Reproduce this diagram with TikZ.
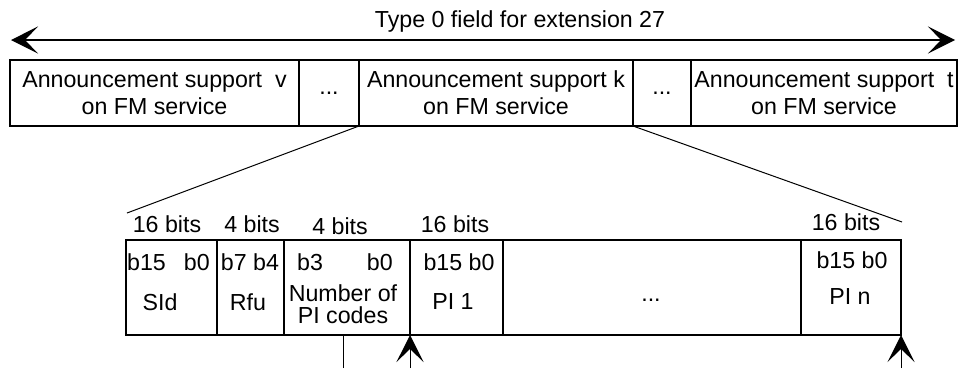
\documentclass[tikz,border=0pt]{standalone}
\usepackage{fontspec}
\setmainfont{Liberation Sans}
\usepackage{tikz}
\usetikzlibrary{
  arrows.meta,
  positioning
}
\newcommand{\cellfont}{\fontsize{23.2}{27}\selectfont}
\tikzset{
  cell/.style={
    draw, line width=2.2pt, inner sep=0pt, outer sep=0pt, align=center,
    font=\cellfont
  },
  topcell/.style={cell, minimum height=66pt},
  bitcell/.style={cell, minimum height=95pt},
  txt/.style={inner sep=0pt, font=\cellfont, align=center},
  barb/.tip={Stealth[length=27pt, width=27pt, inset=13pt, line width=1.5pt]},
  spanline/.style={barb-barb, line width=2pt},
  ptrline/.style={-barb, line width=1pt},
  thinline/.style={line width=1pt}
}

\begin{document}
\begin{tikzpicture}[x=1pt, y=-1pt]
  \fill[white] (0,0) rectangle (958,368);
  \useasboundingbox (0,0) rectangle (958,368);

  % whole field
  \coordinate (la) at (11,40);
  \coordinate (ra) at (955,40);
  \draw[spanline] (la) -- (ra);
  \node[txt] (ttl) at (520,21) {Type 0 field for extension 27};

  % top row
  \node[topcell, minimum width=289pt, anchor=north west] (av) at (10,60)
    {Announcement support~~v\\on FM service};
  \node[topcell, minimum width=60pt, right=0pt of av] (d1) {...};
  \node[topcell, minimum width=274pt, right=0pt of d1] (ak)
    {Announcement support k\\on FM service};
  \node[topcell, minimum width=58pt, right=0pt of ak] (d2) {...};
  \node[topcell, minimum width=266pt, right=0pt of d2] (at)
    {Announcement support~~t\\on FM service};

  % zoom lines
  \coordinate (zl) at (127,213);
  \coordinate (zr) at (902,222);
  \draw[thinline] (ak.south west) -- (zl);
  \draw[thinline] (ak.south east) -- (zr);

  % bottom row
  \node[bitcell, minimum width=91pt, anchor=north west] (sid) at (126,240) {};
  \node[bitcell, minimum width=67pt, right=0pt of sid] (rfu) {};
  \node[bitcell, minimum width=126pt, right=0pt of rfu] (npi) {};
  \node[bitcell, minimum width=93pt, right=0pt of npi] (pi1) {};
  \node[bitcell, minimum width=298pt, right=0pt of pi1] (pid) {};
  \node[bitcell, minimum width=100pt, right=0pt of pid] (pin) {};

  % sizes
  \node[txt] (h1) at (167,224) {16 bits};
  \node[txt] (h2) at (252,224) {4 bits};
  \node[txt] (h3) at (340,226) {4 bits};
  \node[txt] (h4) at (455,224) {16 bits};
  \node[txt] (h5) at (846,222) {16 bits};

  % bit numbers and names
  \node[txt, anchor=west] (s15) at (127,262) {b15};
  \node[txt, anchor=east] (s0) at (210,262) {b0};
  \node[txt] (sn) at (160,302) {SId};
  \node[txt] (rb) at (250,262) {b7 b4};
  \node[txt] (rn) at (248,302) {Rfu};
  \node[txt, anchor=west] (n3) at (297,262) {b3};
  \node[txt, anchor=east] (n0) at (393,262) {b0};
  \node[txt, font=\fontsize{23.2}{22}\selectfont] (nn) at (343,304) {Number of\\PI codes};
  \node[txt] (p1b) at (459,262) {b15 b0};
  \node[txt] (p1n) at (453,302) {PI 1};
  \node[txt] (pdn) at (651,300) {...};
  \node[txt] (pnb) at (852,260) {b15 b0};
  \node[txt] (pnn) at (850,297) {PI n};

  % pointers
  \coordinate (cnt) at (343,368);
  \coordinate (q1) at (410,368);
  \coordinate (q2) at (901,368);
  \draw[thinline] (cnt) -- (cnt |- npi.south);
  \draw[ptrline] (q1) -- (npi.south east);
  \draw[ptrline] (q2) -- (pin.south east);
\end{tikzpicture}
\end{document}
